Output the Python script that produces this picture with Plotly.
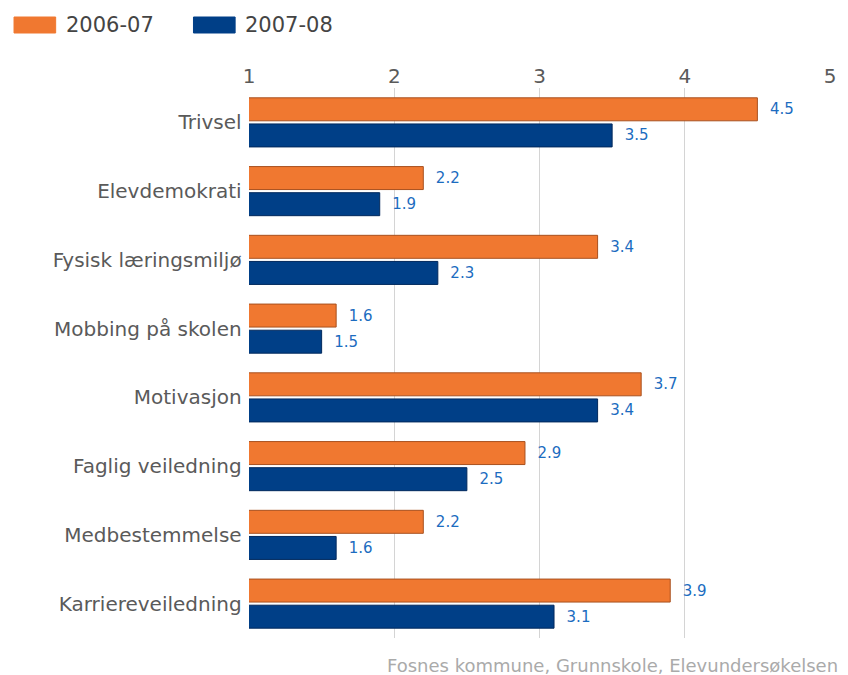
import plotly.graph_objects as go

categories = ["Trivsel", "Elevdemokrati", "Fysisk læringsmiljø", "Mobbing på skolen",
              "Motivasjon", "Faglig veiledning", "Medbestemmelse", "Karriereveiledning"]
series_names = ["2006-07", "2007-08"]
values_2006 = [4.5, 2.2, 3.4, 1.6, 3.7, 2.9, 2.2, 3.9]
values_2007 = [3.5, 1.9, 2.3, 1.5, 3.4, 2.5, 1.6, 3.1]
tick_vals = [1, 2, 3, 4, 5]
source_text = "Fosnes kommune, Grunnskole, Elevundersøkelsen"

colors = ["#f07830", "#003f87"]
edge = ["#a8501e", "#00285c"]

FONT = "DejaVu Sans, Verdana, sans-serif"
W, H = 848, 675
ML, MR, MT, MB = 249, 13, 88, 37
PW, PH = W - ML - MR, H - MT - MB


def px(x):
    return (x - ML) / PW


def py(y):
    return (H - MB - y) / PH


fig = go.Figure()
for name, vals, c, e in zip(series_names, [values_2006, values_2007], colors, edge):
    fig.add_trace(go.Bar(
        y=categories, x=vals, name=name, orientation="h",
        marker=dict(color=c, line=dict(color=e, width=1)),
        text=[f"  {v:.1f}" for v in vals], textposition="outside",
        textfont=dict(color="#1c6cc0", size=15, family=FONT),
        cliponaxis=False, showlegend=False,
    ))

fig.update_layout(
    width=W, height=H,
    margin=dict(l=ML, r=MR, t=MT, b=MB),
    paper_bgcolor="white", plot_bgcolor="white",
    barmode="group", bargap=0.24, bargroupgap=0.12,
    font=dict(family=FONT, color="#5a5a5a"),
    xaxis=dict(range=[1, 5], side="top", tickvals=tick_vals,
               showgrid=True, gridcolor="#d4d4d4", gridwidth=1,
               zeroline=False, showline=False, ticks="",
               tickfont=dict(size=20, color="#5a5a5a", family=FONT)),
    yaxis=dict(autorange="reversed", showgrid=False, ticks="",
               tickfont=dict(size=20, color="#5a5a5a", family=FONT),
               ticksuffix=" "),
)

# legend drawn as shapes + text
for i, (name, c) in enumerate(zip(series_names, colors)):
    x0 = 12 + i * 181
    fig.add_shape(type="rect", xref="paper", yref="paper",
                  x0=px(x0), x1=px(x0 + 42), y0=py(33), y1=py(17),
                  fillcolor=c, line=dict(color=c, width=1))
    fig.add_annotation(xref="paper", yref="paper",
                       x=px(x0 + 50), y=py(25),
                       text=name, showarrow=False, xanchor="left", yanchor="middle",
                       font=dict(size=21, color="#444444", family=FONT))

fig.add_annotation(xref="paper", yref="paper", x=px(845), y=py(665),
                   text=source_text, showarrow=False, xanchor="right", yanchor="middle",
                   font=dict(size=18, color="#aaaaaa", family=FONT))

fig.write_html("out.html", config={"displayModeBar": False},
               post_script="document.body.style.margin='0';document.body.style.overflow='hidden';")
